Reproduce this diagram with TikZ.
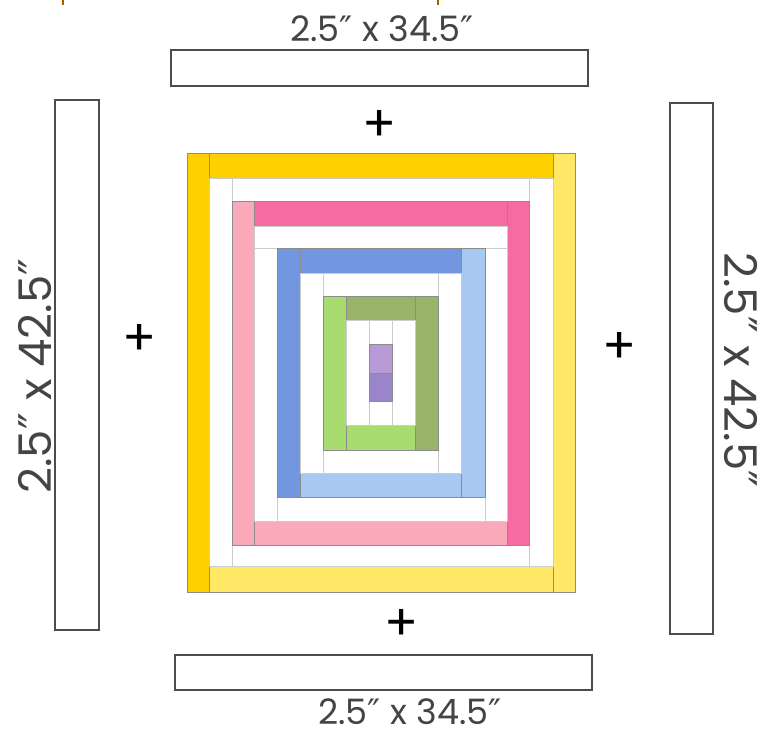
\documentclass[tikz,border=0pt]{standalone}
\usepackage{fontspec}
\newfontfamily\dimfont{Poppins}
\newfontfamily\primefont{DejaVu Sans}
\newcommand{\inch}{{\primefont\char"2033}}
\definecolor{gold}{HTML}{FFD000}
\definecolor{paleyellow}{HTML}{FFE866}
\definecolor{lightpink}{HTML}{F9A9B9}
\definecolor{hotpink}{HTML}{F56BA2}
\definecolor{cornflower}{HTML}{7396E1}
\definecolor{skyblue}{HTML}{A7C8F0}
\definecolor{limegreen}{HTML}{A9DC70}
\definecolor{sage}{HTML}{99B368}
\definecolor{lilac}{HTML}{B89AD6}
\definecolor{violet}{HTML}{9A85CB}
\definecolor{inkgray}{HTML}{444444}
\begin{document}
\begin{tikzpicture}[
    x=1pt, y=-1pt,
    piece/.style={draw=black!45, line width=0.7pt},
    gap/.style={draw=black!20, line width=0.7pt, fill=white},
    strip/.style={rectangle, draw=black!70, line width=1.5pt, fill=white, inner sep=0pt},
    dimlabel/.style={font=\dimfont\fontsize{35}{40}\selectfont, text=inkgray, inner sep=0pt},
    sidelabel/.style={dimlabel, font=\dimfont\fontsize{45}{48}\selectfont},
    plus/.style={font=\dimfont\fontsize{50}{50}\selectfont, text=black, inner sep=0pt}
]
\useasboundingbox (0,0) rectangle (768,736);
% Crop marks at the top edge
\draw[orange!70!black, line width=1.2pt] (63,0) -- (63,5);
\draw[orange!70!black, line width=1.2pt] (438,0) -- (438,5);
% Block: outer yellow round
\foreach \c/\a/\b/\p/\q in {gold/187/153/209.5/592, gold/209.5/153/553/178,
    paleyellow/553/153/575/592, paleyellow/209.5/566.5/553/592}
  \draw[piece, fill=\c] (\a,\b) rectangle (\p,\q);
\foreach \a/\b/\p/\q in {209.5/178/232/566.5, 529.5/178/553/566.5,
    232/178/529.5/201.5, 232/545/529.5/566.5}
  \draw[gap] (\a,\b) rectangle (\p,\q);
% Pink round
\foreach \c/\a/\b/\p/\q in {lightpink/232/201.5/254.5/545, hotpink/254.5/201.5/507.5/226,
    hotpink/507.5/201.5/529.5/545, lightpink/254.5/521/507.5/545}
  \draw[piece, fill=\c] (\a,\b) rectangle (\p,\q);
\foreach \a/\b/\p/\q in {254.5/226/507.5/248.5, 254.5/248.5/277/521,
    485/248.5/507.5/521, 277/497.5/485/521}
  \draw[gap] (\a,\b) rectangle (\p,\q);
% Blue round
\foreach \c/\a/\b/\p/\q in {cornflower/277/248.5/300/497.5, cornflower/300/248.5/461.5/273,
    skyblue/461.5/248.5/485/497.5, skyblue/300/473/461.5/497.5}
  \draw[piece, fill=\c] (\a,\b) rectangle (\p,\q);
\foreach \a/\b/\p/\q in {300/273/323/473, 438.5/273/461.5/473,
    323/273/438.5/296.5, 323/450/438.5/473}
  \draw[gap] (\a,\b) rectangle (\p,\q);
% Green round
\foreach \c/\a/\b/\p/\q in {limegreen/323/296.5/346.5/450, sage/346.5/296.5/415/320,
    sage/415/296.5/438.5/450, limegreen/346.5/425/415/450}
  \draw[piece, fill=\c] (\a,\b) rectangle (\p,\q);
\foreach \a/\b/\p/\q in {346.5/320/369/425, 392/320/415/425,
    369/320/392/344, 369/401.5/392/425}
  \draw[gap] (\a,\b) rectangle (\p,\q);
% Centre
\draw[piece, fill=lilac] (369,344) rectangle (392,373);
\draw[piece, fill=violet] (369,373) rectangle (392,401.5);
% Border strips
\node[strip, minimum width=417pt, minimum height=36pt] (topstrip) at (379.5,68) {};
\node[strip, minimum width=417pt, minimum height=35pt] (botstrip) at (383.5,672.5) {};
\node[strip, minimum width=44pt, minimum height=530pt] (leftstrip) at (77,365) {};
\node[strip, minimum width=43pt, minimum height=531pt] (rightstrip) at (691.5,368.5) {};
% Sizes
\node[dimlabel] (toplabel) at (382,29) {2.5\inch{} x 34.5\inch};
\node[dimlabel] (botlabel) at (410,712) {2.5\inch{} x 34.5\inch};
\node[sidelabel, rotate=90] (leftlabel) at (35,376) {2.5\inch{} x 42.5\inch};
\node[sidelabel, rotate=-90] (rightlabel) at (741,370) {2.5\inch{} x 42.5\inch};
% Plus signs
\node[plus] (plustop) at (380,126) {+};
\node[plus] (plusbot) at (402,625) {+};
\node[plus] (plusleft) at (140,340) {+};
\node[plus] (plusright) at (620,348) {+};
\end{tikzpicture}
\end{document}
